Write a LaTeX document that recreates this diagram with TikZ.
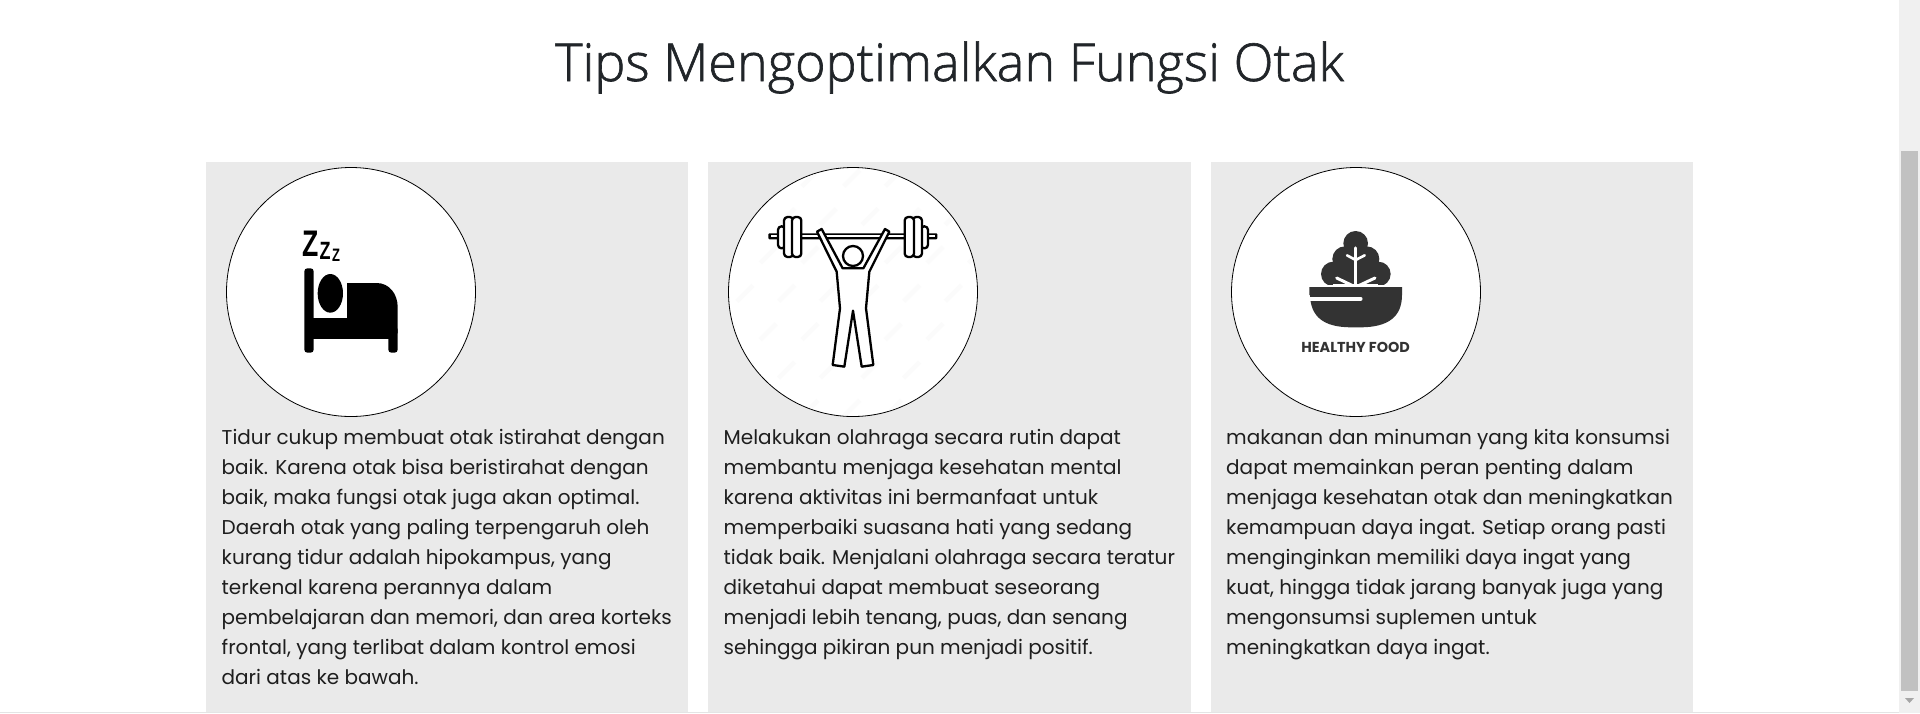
\documentclass[tikz,border=0pt]{standalone}
\usepackage{fontspec}
\setmainfont{Poppins}
\newfontfamily\titlefont{Open Sans Light}[FakeBold=1.2]
\newfontfamily\zfont{Liberation Sans}[BoldFont={Liberation Sans Bold}]
\definecolor{panelgray}{HTML}{EAEAEA}
\definecolor{inkdark}{HTML}{212529}
\definecolor{bodyink}{HTML}{1E1E1E}
\definecolor{bowlgray}{HTML}{333333}
\definecolor{trackgray}{HTML}{F0F0F0}
\definecolor{thumbgray}{HTML}{C1C1C1}
\definecolor{markgray}{HTML}{FBFBFB}
\tikzset{
  x=1pt,y=-1pt,
  panel/.style={fill=panelgray,draw=none},
  disc/.style={circle,fill=white,draw=black,line width=0.8pt,minimum size=249pt,inner sep=0pt},
  para/.style={anchor=base west,inner sep=0pt,text=bodyink,font=\fontsize{20}{30}\selectfont},
  ttl/.style={anchor=base,inner sep=0pt,text=inkdark,font=\titlefont\fontsize{52.2}{60}\selectfont},
  zoomed/.style={x=0.33333pt,y=-0.33333pt},
  outlined/.style={draw=black,fill=white,line width=2.3pt,line join=round},
  zed/.style={inner sep=0pt,anchor=base,text=black},
}
\begin{document}
\begin{tikzpicture}
\useasboundingbox (0,0) rectangle (1920,713);
\fill[white] (0,0) rectangle (1920,713);
\node[ttl] (title) at (949.5,81) {Tips Mengoptimalkan Fungsi Otak};
% panels
\fill[panel] (206,162) rectangle (688,713);
\fill[panel] (708,162) rectangle (1190.5,713);
\fill[panel] (1211,162) rectangle (1693,713);
\node[disc] (c1) at (351,292) {};
\node[disc] (c2) at (853,292) {};
\node[disc] (c3) at (1356,292) {};
% bed
\begin{scope}[shift={(200,160)},zoomed]
\fill[black,rounded corners=3pt] (313,325) rectangle (341,578);
\fill[black,rounded corners=3pt] (565,500) rectangle (593,578);
\fill[black] (330,475) rectangle (580,536);
\fill[black] (441,369) -- (530,369) .. controls (570,369) and (593,405) .. (593,440) -- (593,520) -- (441,520) -- cycle;
\fill[black] (391,400) ellipse [x radius=38,y radius=58];
\node[zed,font=\zfont\bfseries\fontsize{37}{37}\selectfont,xscale=0.72] (z1) at (331,290) {Z};
\node[zed,font=\zfont\bfseries\fontsize{25}{25}\selectfont,xscale=0.72] (z2) at (375,297) {Z};
\node[zed,font=\zfont\bfseries\fontsize{18}{18}\selectfont,xscale=0.72] (z3) at (408,305) {Z};
\end{scope}
% lifter
\begin{scope}[shift={(710,160)},zoomed]
\begin{scope}
\clip (429,396) circle [radius=371];
\foreach \r in {0,...,6}{
  \foreach \k in {0,...,7}{
    \pgfmathsetmacro{\mx}{50+125*\k+mod(\r,2)*55}
    \pgfmathsetmacro{\my}{55+115*\r}
    \draw[markgray,line width=4.5pt] (\mx-24,\my+24) -- (\mx+24,\my-24);
  }
}
\end{scope}
\fill[black,rounded corners=1pt] (175,220) rectangle (682,238);
\fill[white] (183,226) rectangle (674,232);
\foreach \xa/\xb/\ya/\yb in {204/226/199/265, 222/250/171/291, 246/274/171/291, 632/654/199/265, 608/636/171/291, 584/612/171/291}{
  \draw[outlined,rounded corners=3.5pt] (\xa,\ya) rectangle (\xb,\yb);
}
\draw[outlined] (321,215) -- (380,335) -- (390,445) -- (368,615) -- (403,620) -- (429,452) -- (455,620) -- (490,615) -- (468,445) -- (478,335) -- (538,215) -- (525,207) -- (460,325) -- (398,325) -- (335,207) -- cycle;
\draw[outlined] (429,288) circle [radius=30];
\end{scope}
% salad
\begin{scope}[shift={(1220,160)},zoomed]
\begin{scope}
\clip (280,200) rectangle (530,372);
\fill[bowlgray] (407,250) circle [radius=37];
\fill[bowlgray] (375,297) circle [radius=38];
\fill[bowlgray] (440,297) circle [radius=38];
\fill[bowlgray] (340,342) circle [radius=37];
\fill[bowlgray] (475,342) circle [radius=37];
\fill[bowlgray] (340,300) rectangle (475,372);
\end{scope}
\draw[white,line width=3.2pt,line cap=round] (407,264) -- (407,372);
\draw[white,line width=2.6pt,line cap=round] (407,300) -- (381,286);
\draw[white,line width=2.6pt,line cap=round] (407,300) -- (434,286);
\draw[white,line width=3pt,line cap=round] (396,376) -- (350,354);
\draw[white,line width=3pt,line cap=round] (418,376) -- (465,354);
\fill[white] (340,372) rectangle (475,381);
\fill[bowlgray] (268,381) -- (546,381) -- (546,405) .. controls (546,470) and (505,502) .. (420,502) -- (395,502) .. controls (310,502) and (272,470) .. (270,405) -- (268,405) -- cycle;
\draw[white,line width=3.8pt,line cap=round] (255,416) -- (422,416);
\node[inner sep=0pt,anchor=base,text=bowlgray,font=\bfseries\fontsize{14.4}{14}\selectfont] (food) at (407,576) {HEALTHY FOOD};
\end{scope}
% text 1
\node[para] (a1) at (221.5,444.5) {Tidur cukup membuat otak istirahat dengan};
\node[para] (a2) at (221.5,474.5) {baik. Karena otak bisa beristirahat dengan};
\node[para] (a3) at (221.5,504.5) {baik, maka fungsi otak juga akan optimal.};
\node[para] (a4) at (221.5,534.5) {Daerah otak yang paling terpengaruh oleh};
\node[para] (a5) at (221.5,564.5) {kurang tidur adalah hipokampus, yang};
\node[para] (a6) at (221.5,594.5) {terkenal karena perannya dalam};
\node[para] (a7) at (221.5,624.5) {pembelajaran dan memori, dan area korteks};
\node[para] (a8) at (221.5,654.5) {frontal, yang terlibat dalam kontrol emosi};
\node[para] (a9) at (221.5,684.5) {dari atas ke bawah.};
% text 2
\node[para] (b1) at (723.5,444.5) {Melakukan olahraga secara rutin dapat};
\node[para] (b2) at (723.5,474.5) {membantu menjaga kesehatan mental};
\node[para] (b3) at (723.5,504.5) {karena aktivitas ini bermanfaat untuk};
\node[para] (b4) at (723.5,534.5) {memperbaiki suasana hati yang sedang};
\node[para] (b5) at (723.5,564.5) {tidak baik. Menjalani olahraga secara teratur};
\node[para] (b6) at (723.5,594.5) {diketahui dapat membuat seseorang};
\node[para] (b7) at (723.5,624.5) {menjadi lebih tenang, puas, dan senang};
\node[para] (b8) at (723.5,654.5) {sehingga pikiran pun menjadi positif.};
% text 3
\node[para] (d1) at (1226,444.5) {makanan dan minuman yang kita konsumsi};
\node[para] (d2) at (1226,474.5) {dapat memainkan peran penting dalam};
\node[para] (d3) at (1226,504.5) {menjaga kesehatan otak dan meningkatkan};
\node[para] (d4) at (1226,534.5) {kemampuan daya ingat. Setiap orang pasti};
\node[para] (d5) at (1226,564.5) {menginginkan memiliki daya ingat yang};
\node[para] (d6) at (1226,594.5) {kuat, hingga tidak jarang banyak juga yang};
\node[para] (d7) at (1226,624.5) {mengonsumsi suplemen untuk};
\node[para] (d8) at (1226,654.5) {meningkatkan daya ingat.};
% scrollbar
\fill[trackgray] (1899,0) rectangle (1920,713);
\fill[thumbgray] (1901,151) rectangle (1918,691);
\fill[gray!70] (1905,698) -- (1914,698) -- (1909.5,703) -- cycle;
\fill[trackgray!95!black] (0,712) rectangle (1899,713);
\end{tikzpicture}
\end{document}
